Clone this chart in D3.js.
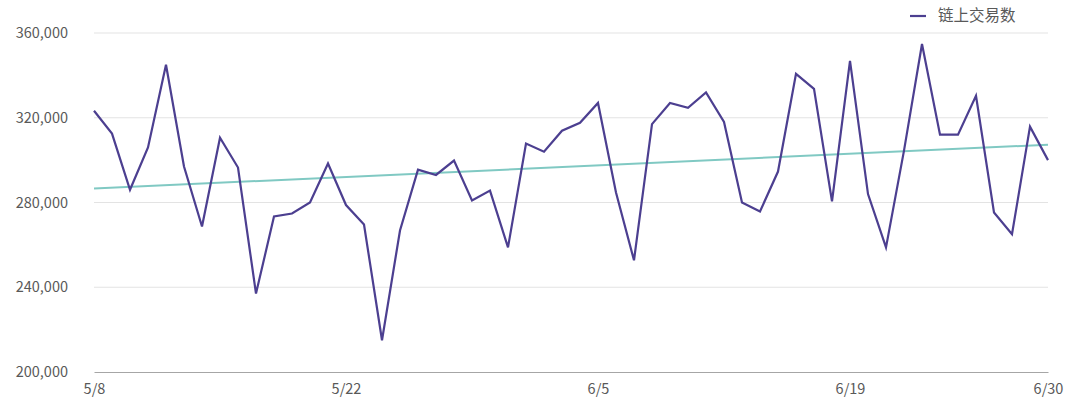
<!DOCTYPE html>
<html>
<head>
<meta charset="utf-8">
<script src="https://cdn.jsdelivr.net/npm/d3@7"></script>
<style>
  html, body { margin: 0; padding: 0; background: #ffffff; }
  svg { display: block; }
</style>
</head>
<body>
<svg id="chart" width="1080" height="414"></svg>
<script>
// ---- Data ----
const startDate = "2019-05-08";
const values = [
  323300, 312500, 286000, 306000, 345000, 297000, 268700, 310600, 296500, 237000,
  273400, 274800, 280000, 298400, 278800, 269600, 215000, 266800, 295500, 293000,
  299800, 281000, 285600, 258800, 307800, 304000, 313900, 317600, 327000, 284700,
  252700, 317000, 327000, 324700, 332000, 318000, 280000, 275800, 294600, 340700,
  333600, 280500, 346800, 284000, 258800, 304500, 354800, 312000, 312000, 330400,
  275300, 265000, 315800, 300000
];
const trendValues = [286600, 307300];
const yTicks = [200000, 240000, 280000, 320000, 360000];
const xTickLabels = ["5/8", "5/22", "6/5", "6/19", "6/30"];
const seriesName = "链上交易数";

// ---- Layout ----
const svg = d3.select("#chart");
const margin = { left: 94, right: 32, top: 33, bottom: 42 };
const W = 1080, H = 414;
const parse = d3.utcParse("%Y-%m-%d");
const t0 = parse(startDate);
const dates = values.map((v, i) => d3.utcDay.offset(t0, i));
const data = values.map((v, i) => ({ date: dates[i], value: v }));

const x = d3.scaleUtc()
  .domain([dates[0], dates[dates.length - 1]])
  .range([margin.left, W - margin.right]);
const y = d3.scaleLinear()
  .domain([200000, 360000])
  .range([H - margin.bottom, margin.top]);

const font = "'Noto Sans CJK SC', 'Noto Sans', sans-serif";

// gridlines
svg.append("g")
  .selectAll("line")
  .data(yTicks.filter(d => d !== 200000))
  .join("line")
  .attr("x1", x.range()[0]).attr("x2", x.range()[1])
  .attr("y1", d => y(d)).attr("y2", d => y(d))
  .attr("stroke", "#e3e3e3").attr("stroke-width", 1);

// y axis
const yAxis = d3.axisLeft(y).tickValues(yTicks).tickSize(0).tickPadding(26)
  .tickFormat(d3.format(","));
const gy = svg.append("g").attr("transform", `translate(${margin.left},0)`).call(yAxis);
gy.select(".domain").remove();
gy.selectAll("text").attr("fill", "#595959").style("font-family", font).style("font-size", "14.5px");

// x axis
const tickDates = xTickLabels.map(s => {
  const [m, d] = s.split("/").map(Number);
  return new Date(Date.UTC(2019, m - 1, d));
});
const xAxis = d3.axisBottom(x).tickValues(tickDates).tickSize(0).tickPadding(12)
  .tickFormat((d, i) => xTickLabels[i]);
const gx = svg.append("g").attr("transform", `translate(0,${H - margin.bottom})`).call(xAxis);
gx.select(".domain").attr("stroke", "#a6a6a6").attr("stroke-width", 1);
gx.selectAll("text").attr("fill", "#595959").style("font-family", font).style("font-size", "14.5px");

// trend line
svg.append("path")
  .datum([{ date: dates[0], value: trendValues[0] }, { date: dates[dates.length - 1], value: trendValues[1] }])
  .attr("fill", "none")
  .attr("stroke", "#80c9c3")
  .attr("stroke-width", 2)
  .attr("d", d3.line().x(d => x(d.date)).y(d => y(d.value)));

// main line
svg.append("path")
  .datum(data)
  .attr("fill", "none")
  .attr("stroke", "#4c3f90")
  .attr("stroke-width", 2.2)
  .attr("stroke-linejoin", "miter")
  .attr("d", d3.line().x(d => x(d.date)).y(d => y(d.value)));

// legend
const lg = svg.append("g").attr("transform", "translate(910,16)");
lg.append("line").attr("x1", 0).attr("x2", 16).attr("y1", 0).attr("y2", 0)
  .attr("stroke", "#4c3f90").attr("stroke-width", 2.2);
lg.append("text").attr("x", 28).attr("y", 0).attr("dy", "0.35em")
  .attr("fill", "#595959").style("font-family", font).style("font-size", "15.5px")
  .text(seriesName);
</script>
</body>
</html>
